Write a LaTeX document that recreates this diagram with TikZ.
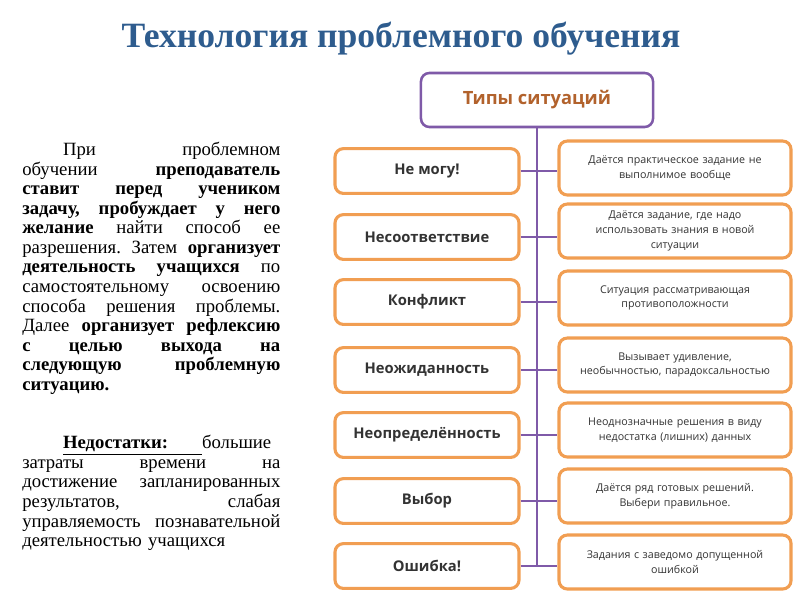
\documentclass[tikz,border=0pt]{standalone}
\usepackage{fontspec}
\setmainfont{Liberation Serif}
\newfontfamily\cajafont{Open Sans}
\usepackage{xcolor}
\usepackage{tikz}
\usetikzlibrary{positioning,calc}
\definecolor{naranja}{HTML}{F19E52}
\definecolor{violeta}{HTML}{7F5AA8}
\definecolor{azul}{HTML}{2E5C8E}
\definecolor{marron}{HTML}{B2622C}
\definecolor{tinta}{HTML}{333333}
\newcommand{\lin}[1]{{\spaceskip=0.25em plus 1fil\makebox[6.45cm][s]{#1}}}

\begin{document}
\begin{tikzpicture}[x=0.025cm,y=-0.025cm,
  raiz/.style={draw=violeta,line width=1.8pt,fill=white,rounded corners=6pt,minimum width=5.8cm,minimum height=1.35cm,font=\cajafont\fontsize{13}{15}\selectfont\bfseries,text=marron},
  tipo/.style={draw=naranja,line width=2.2pt,fill=white,rounded corners=6pt,minimum width=4.6cm,minimum height=1.12cm,font=\cajafont\fontsize{10.5}{12}\selectfont\bfseries,text=tinta},
  desc/.style={draw=naranja,line width=2.2pt,fill=white,rounded corners=6pt,minimum width=5.8cm,minimum height=1.35cm,text width=5.4cm,align=center,font=\cajafont\fontsize{7.6}{10.5}\selectfont,text=tinta},
  rama/.style={violeta,line width=1.2pt}]
\useasboundingbox (0,0) rectangle (800,600);
\node[font=\fontsize{25.3}{30}\selectfont\bfseries,text=azul] (titulo) at (401,39) {Технология проблемного обучения};
\node[anchor=north west,inner sep=0pt,text width=6.45cm,align=left,font=\fontsize{13.3}{13.9}\selectfont\frenchspacing] (texto) at (22,142) {%
\lin{\hspace*{1.02cm}При проблемном}\\
\lin{обучении \textbf{преподаватель}}\\
\lin{\textbf{ставит перед учеником}}\\
\lin{\textbf{задачу, пробуждает у него}}\\
\lin{\textbf{желание} найти способ ее}\\
\lin{разрешения. Затем \textbf{организует}}\\
\lin{\textbf{деятельность учащихся} по}\\
\lin{самостоятельному освоению}\\
\lin{способа решения проблемы.}\\
\lin{Далее \textbf{организует рефлексию}}\\
\lin{\textbf{с целью выхода на}}\\
\lin{\textbf{следующую проблемную}}\\
\textbf{ситуацию.}\\[2\baselineskip]
\hspace*{1.02cm}\underline{\textbf{Недостатки:}\hspace{0.85cm}}большие\\
\lin{затраты времени на}\\
\lin{достижение запланированных}\\
\lin{результатов, слабая}\\
\lin{управляемость познавательной}\\
деятельностью учащихся};
% tipos de situaciones
\node[raiz] (tipos) at (537,100) {Типы ситуаций};
\node[tipo] (s1) at (427,171) {Не могу!};
\node[tipo] (s2) at (427,237) {Несоответствие};
\node[tipo] (s3) at (427,302) {Конфликт};
\node[tipo] (s4) at (427,370) {Неожиданность};
\node[tipo] (s5) at (427,435) {Неопределённость};
\node[tipo] (s6) at (427,501) {Выбор};
\node[tipo] (s7) at (427,566) {Ошибка!};
\node[desc] (d1) at (675,168) {Даётся практическое задание не\\выполнимое вообще};
\node[desc] (d2) at (675,231) {Даётся задание, где надо\\использовать знания в новой\\ситуации};
\node[desc] (d3) at (675,298) {Ситуация рассматривающая\\противоположности};
\node[desc] (d4) at (675,365) {Вызывает удивление,\\необычностью, парадоксальностью};
\node[desc] (d5) at (675,430) {Неоднозначные решения в виду\\недостатка (лишних) данных};
\node[desc] (d6) at (675,496) {Даётся ряд готовых решений.\\Выбери правильное.};
\node[desc] (d7) at (675,562) {Задания с заведомо допущенной\\ошибкой};
\draw[rama] (tipos.south) -- (tipos.south |- s7.east);
\draw[rama] (s1.east) -- (s1.east -| d1.west);
\draw[rama] (s2.east) -- (s2.east -| d2.west);
\draw[rama] (s3.east) -- (s3.east -| d3.west);
\draw[rama] (s4.east) -- (s4.east -| d4.west);
\draw[rama] (s5.east) -- (s5.east -| d5.west);
\draw[rama] (s6.east) -- (s6.east -| d6.west);
\draw[rama] (s7.east) -- (s7.east -| d7.west);
\end{tikzpicture}
\end{document}
